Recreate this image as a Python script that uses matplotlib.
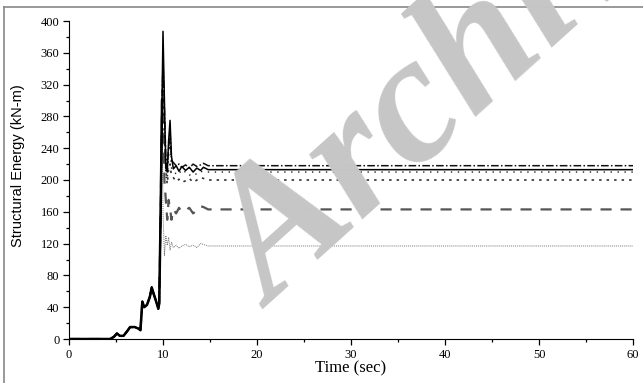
import matplotlib
matplotlib.use("Agg")
import matplotlib.pyplot as plt
from matplotlib.lines import Line2D

# ---- data ----
t_rise = [0, 2, 4.4, 4.8, 5.1, 5.4, 5.8, 6.2, 6.5, 7.0, 7.4, 7.6, 7.8, 8.0, 8.3, 8.6, 8.8, 9.0, 9.25, 9.5, 9.6, 9.75, 9.9]
v_rise = [0, 0, 0, 3, 7, 4, 4, 10, 15, 15, 13, 11, 47, 40, 43, 53, 65, 57, 48, 38, 45, 160, 300]

t_tail = [10.0, 10.15, 10.3, 10.45, 10.6, 10.75, 10.9, 11.1, 11.4, 11.7, 12.0, 12.4, 12.8, 13.2, 13.6, 14.0, 14.3, 14.8, 60]
s_dashdot = [350, 290, 230, 215, 240, 260, 225, 222, 218, 220, 216, 219, 215, 220, 217, 219, 221, 218, 218]
s_solid = [387, 300, 215, 210, 250, 275, 230, 214, 218, 211, 217, 212, 216, 210, 215, 212, 216, 213, 213]
s_dot_sparse = [340, 260, 205, 200, 230, 245, 215, 210, 208, 212, 207, 211, 206, 209, 207, 211, 210, 210, 210]
s_dot_dense = [330, 250, 215, 195, 215, 220, 205, 203, 198, 201, 197, 199, 202, 197, 200, 203, 202, 200, 200]
s_dashed = [300, 200, 175, 150, 175, 165, 150, 163, 158, 165, 160, 162, 165, 158, 162, 167, 166, 163, 163]
s_fine = [160, 105, 130, 118, 128, 112, 122, 115, 118, 114, 117, 119, 116, 118, 115, 120, 119, 117, 117]

x_ticks = [0, 10, 20, 30, 40, 50, 60]
y_ticks = [0, 40, 80, 120, 160, 200, 240, 280, 320, 360, 400]

fig = plt.figure(figsize=(6.43, 3.83), dpi=100)
ax = fig.add_axes([69/643, 1 - 339/383, (633-69)/643, (339-21)/383])

series = [
    (s_fine, dict(color="#777777", lw=0.7, ls=(0, (1, 1)))),
    (s_dashed, dict(color="#555555", lw=1.6, ls=(0, (5, 4)))),
    (s_dot_dense, dict(color="#333333", lw=1.2, ls=(0, (1.5, 3)))),
    (s_dot_sparse, dict(color="#222222", lw=1.0, ls=(0, (1, 4)))),
    (s_dashdot, dict(color="#111111", lw=1.1, ls=(0, (5, 1.5, 1, 1.5)))),
    (s_solid, dict(color="black", lw=1.1, ls="-")),
]
for vals, st in series:
    ax.plot(t_rise + t_tail, v_rise + vals, **st)
ax.plot(t_rise, v_rise, color="black", lw=1.8)

ax.set_xlim(0, 60)
ax.set_ylim(0, 400)
ax.set_xticks(x_ticks)
ax.set_yticks(y_ticks)
ax.set_xticks(range(5, 60, 10), minor=True)
ax.set_yticks(range(20, 400, 40), minor=True)
for s in ("top", "right"):
    ax.spines[s].set_visible(False)
ax.tick_params(direction="out", length=4, width=0.9, labelsize=9, pad=3)
ax.tick_params(which="minor", direction="out", length=2.5, width=0.9)
for lab in ax.get_xticklabels() + ax.get_yticklabels():
    lab.set_family("Liberation Serif")
ax.set_xlabel("Time (sec)", family="Liberation Serif", fontsize=12, labelpad=0)
ax.set_ylabel("Structural Energy (kN-m)", family="Liberation Sans", fontsize=10.5, labelpad=4)
ax.yaxis.set_label_coords(-0.078, 0.545)

# figure frame (left and top edges only)
fig.add_artist(Line2D([3.5/643, 3.5/643], [0, 1 - 7/383], transform=fig.transFigure,
                      color="#888888", lw=1.2))
fig.add_artist(Line2D([3.5/643, 1], [1 - 7/383, 1 - 7/383], transform=fig.transFigure,
                      color="#888888", lw=1.2))

# watermark
fig.text(272/643, 1 - 310/383, "Archive", fontsize=132, fontweight="bold", fontstyle="italic",
         family="Liberation Serif", color="#c6c6c6", rotation=42, rotation_mode="anchor",
         ha="left", va="baseline", zorder=10)

fig.savefig("out.png", dpi=100)
